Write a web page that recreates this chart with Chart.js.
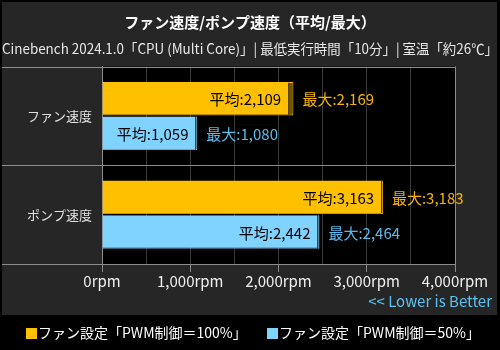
<!DOCTYPE html>
<html>
<head>
<meta charset="utf-8">
<script src="https://cdn.jsdelivr.net/npm/chart.js@4.4.1/dist/chart.umd.min.js"></script>
<style>
  html, body { margin: 0; padding: 0; background: #000; }
  #wrap { width: 500px; height: 350px; }
</style>
</head>
<body>
<div id="wrap"><canvas id="chart"></canvas></div>
<script>
const categories = ['ファン速度', 'ポンプ速度'];
const seriesNames = ['ファン設定「PWM制御＝100%」', 'ファン設定「PWM制御＝50%」'];
const avg100 = [2109, 3163];
const max100 = [2169, 3183];
const avg50 = [1059, 2442];
const max50 = [1080, 2464];
const xTickLabels = ['0rpm', '1,000rpm', '2,000rpm', '3,000rpm', '4,000rpm'];

const FONT = '"Noto Sans CJK JP", "Noto Sans", sans-serif';
const ORANGE = '#ffc000';
const BLUE = '#80d2ff';
const fmt = v => v.toLocaleString('en-US');

// 背景とパネル、凡例
const backdrop = {
  id: 'backdrop',
  beforeDraw(chart) {
    const { ctx, chartArea: a } = chart;
    ctx.save();
    ctx.fillStyle = '#000';
    ctx.fillRect(0, 0, chart.width, chart.height);
    ctx.fillStyle = '#262626';
    ctx.fillRect(2, 2, 495, 313);
    ctx.fillStyle = '#000';
    ctx.fillRect(a.left, a.top, a.right - a.left, a.bottom - a.top);
    ctx.restore();
  },
  afterDraw(chart) {
    const { ctx, chartArea: a } = chart;
    const y = chart.scales.y;
    const band = (y.bottom - y.top) / categories.length;
    ctx.save();
    ctx.strokeStyle = '#8c8c8c';
    ctx.lineWidth = 1;
    ctx.beginPath();
    for (let i = 0; i <= categories.length; i++) {
      const py = Math.round(y.top + band * i) + 0.5;
      ctx.moveTo(2, py);
      ctx.lineTo(a.right, py);
    }
    ctx.moveTo(Math.round(a.right) + 0.5, a.top);
    ctx.lineTo(Math.round(a.right) + 0.5, a.bottom);
    ctx.stroke();

    ctx.font = '15px ' + FONT;
    ctx.fillStyle = '#5bc3f2';
    ctx.textAlign = 'right';
    ctx.textBaseline = 'middle';
    ctx.fillText('<< Lower is Better', 492, 301);

    // 凡例
    ctx.font = '14px ' + FONT;
    ctx.textAlign = 'left';
    [[26, ORANGE, seriesNames[0]], [267, BLUE, seriesNames[1]]].forEach(([x, col, txt]) => {
      ctx.fillStyle = col;
      ctx.fillRect(x, 328, 11, 11);
      ctx.fillStyle = '#ffffff';
      ctx.fillText(txt, x + 12, 333);
    });
    ctx.restore();
  }
};

// 平均・最大ラベル
const barLabels = {
  id: 'barLabels',
  afterDatasetsDraw(chart) {
    const { ctx } = chart;
    ctx.save();
    ctx.font = '15px ' + FONT;
    ctx.textBaseline = 'middle';
    [[0, 1, avg100, max100, '#f5b400'], [2, 3, avg50, max50, '#5bbbec']].forEach(([ai, mi, avg, mx, col]) => {
      const avgMeta = chart.getDatasetMeta(ai);
      const maxMeta = chart.getDatasetMeta(mi);
      avgMeta.data.forEach((el, i) => {
        ctx.fillStyle = '#000';
        ctx.textAlign = 'right';
        ctx.fillText('平均:' + fmt(avg[i]), el.x - 7, el.y + 1);
        const m = maxMeta.data[i];
        ctx.fillStyle = col;
        ctx.textAlign = 'left';
        ctx.fillText('最大:' + fmt(mx[i]), m.x + 9, m.y + 1);
      });
    });
    ctx.restore();
  }
};

new Chart(document.getElementById('chart'), {
  type: 'bar',
  data: {
    labels: categories,
    datasets: [
      { label: seriesNames[0], stack: 'o', data: avg100, backgroundColor: ORANGE, borderColor: '#c99700', borderWidth: { bottom: 1 } },
      { label: 'max', stack: 'o', data: max100.map((v, i) => v - avg100[i]), backgroundColor: '#6e5200', borderColor: ORANGE, borderWidth: 1 },
      { label: seriesNames[1], stack: 'b', data: avg50, backgroundColor: BLUE, borderColor: '#5ea9d2', borderWidth: { bottom: 1 } },
      { label: 'max', stack: 'b', data: max50.map((v, i) => v - avg50[i]), backgroundColor: '#5f93ae', borderColor: BLUE, borderWidth: 1 }
    ]
  },
  options: {
    indexAxis: 'y',
    responsive: true,
    maintainAspectRatio: false,
    animation: false,
    categoryPercentage: 0.7,
    barPercentage: 0.97,
    layout: { padding: { left: 2, right: 2, top: 0, bottom: 35 } },
    scales: {
      x: {
        stacked: true,
        min: 0,
        max: 4000,
        ticks: {
          stepSize: 500,
          autoSkip: false,
          maxRotation: 0,
          padding: 0,
          color: '#f0f0f0',
          font: { family: FONT, size: 15 },
          callback: (v, i) => (i % 2 === 0 ? xTickLabels[i / 2] : '')
        },
        grid: {
          color: '#3a3a3a',
          tickLength: 8,
          tickColor: c => (c.tick && c.tick.value % 1000 === 0 ? '#8c8c8c' : 'transparent')
        },
        border: { color: '#8c8c8c' },
        afterFit: s => { s.height = 51; s.paddingRight = 45; }
      },
      y: {
        grid: { display: false, drawTicks: false },
        border: { color: '#8c8c8c' },
        ticks: { color: '#e0e0e0', padding: 10, font: { family: FONT, size: 13 } },
        afterFit: s => { s.width = 100; }
      }
    },
    plugins: {
      title: {
        display: true,
        text: 'ファン速度/ポンプ速度（平均/最大）',
        color: '#ffffff',
        font: { family: FONT, size: 15, weight: 'bold', lineHeight: 1.2 },
        padding: { top: 13, bottom: 8 }
      },
      subtitle: {
        display: true,
        text: 'Cinebench 2024.1.0「CPU (Multi Core)」| 最低実行時間「10分」| 室温「約26℃」',
        color: '#e8e8e8',
        font: { family: FONT, size: 13.8, lineHeight: 1.2 },
        padding: { top: 1, bottom: 10 }
      },
      legend: { display: false },
      tooltip: { enabled: false }
    }
  },
  plugins: [backdrop, barLabels]
});
</script>
</body>
</html>
